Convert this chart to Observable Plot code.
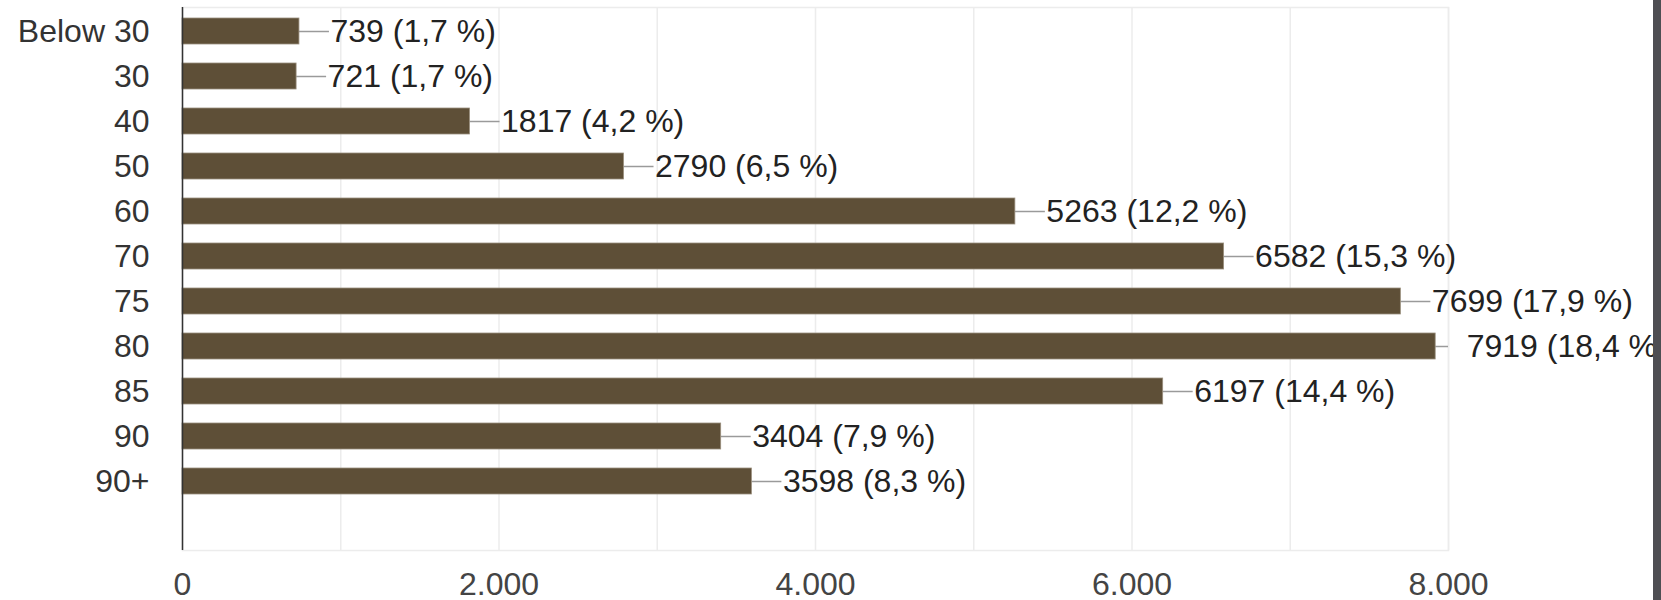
<!DOCTYPE html>
<html>
<head>
<meta charset="utf-8">
<script src="https://cdn.jsdelivr.net/npm/d3@7"></script>
<script src="https://cdn.jsdelivr.net/npm/@observablehq/plot@0.6"></script>
<style>
  html, body { margin: 0; padding: 0; background: #fff; overflow: hidden; }
  #wrap { position: relative; width: 1661px; height: 600px; }
  #strip { position: absolute; left: 1653px; top: 0; width: 8px; height: 600px; background: #4e4e53; }
  svg text { font-family: "Liberation Sans", Arial, sans-serif; }
</style>
</head>
<body>
<div id="wrap"><div id="strip"></div></div>
<script>
// Data
const ageGroups = ["Below 30", "30", "40", "50", "60", "70", "75", "80", "85", "90", "90+"];
const counts = [739, 721, 1817, 2790, 5263, 6582, 7699, 7919, 6197, 3404, 3598];
const percents = [1.7, 1.7, 4.2, 6.5, 12.2, 15.3, 17.9, 18.4, 14.4, 7.9, 8.3];
const xTickValues = [0, 2000, 4000, 6000, 8000];
const gridValues = [0, 1000, 2000, 3000, 4000, 5000, 6000, 7000, 8000];
const xMax = 8000;

const rows = ageGroups.map((g, i) => ({group: g, value: counts[i], pct: percents[i]}));
const deFmt = d3.formatLocale({decimal: ",", thousands: ".", grouping: [3], currency: ["", "€"]});
const thousands = deFmt.format(",");
const pctFmt = deFmt.format(".1f");

const W = 1661, H = 600;
const mLeft = 182, mRight = 213, mTop = 7, mBottom = 50;
const pxPerUnit = (W - mLeft - mRight) / xMax;
const connectorUnits = 30 / pxPerUnit;

const chart = Plot.plot({
  width: W,
  height: H,
  marginLeft: mLeft,
  marginRight: mRight,
  marginTop: mTop,
  marginBottom: mBottom,
  style: {fontFamily: "'Liberation Sans', Arial, sans-serif", fontSize: "32px", background: "transparent", overflow: "visible"},
  x: {domain: [0, xMax], ticks: xTickValues, tickFormat: thousands, label: null},
  y: {domain: [...ageGroups, ""], paddingInner: 0.42, paddingOuter: 0.24, label: null},
  marks: [
    Plot.ruleX(gridValues, {stroke: "#ececec", strokeWidth: 1.5}),
    Plot.frame({stroke: "#ececec", strokeWidth: 1.5}),
    Plot.ruleY(rows, {
      y: "group",
      x1: "value",
      x2: d => Math.min(d.value + connectorUnits, xMax),
      stroke: "#9a9a9a",
      strokeWidth: 1.5
    }),
    Plot.barX(rows, {y: "group", x: "value", fill: "#5e4f37", stroke: "#9a8f7e", strokeWidth: 0.8}),
    Plot.ruleX([0], {stroke: "#333", strokeWidth: 1.5}),
    Plot.text(rows, {
      y: "group",
      x: "value",
      text: d => `${d.value} (${pctFmt(d.pct)} %)`,
      dx: 31,
      textAnchor: "start",
      fill: "#222",
      fontSize: 32
    }),
    Plot.axisY({tickSize: 0, tickPadding: 33, fontSize: 32, fill: "#333", tickFormat: d => d}),
    Plot.axisX({ticks: xTickValues, tickFormat: thousands, tickSize: 0, tickPadding: 22, fontSize: 32, fill: "#444", label: null})
  ]
});
document.getElementById("wrap").prepend(chart);
</script>
</body>
</html>
